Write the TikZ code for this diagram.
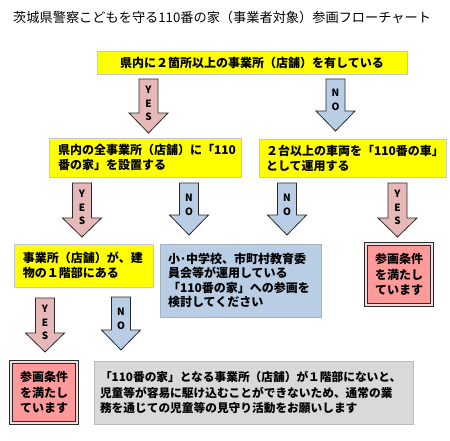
\documentclass[tikz,border=0pt]{standalone}
\usepackage{fontspec}
\setmainfont{Noto Sans CJK JP}
\definecolor{ybox}{HTML}{FFFF00}
\definecolor{yborder}{HTML}{C4C4D4}
\definecolor{bluefill}{HTML}{B9CDE5}
\definecolor{blueborder}{HTML}{A8B0BC}
\definecolor{greyfill}{HTML}{D9D9D9}
\definecolor{greyborder}{HTML}{BCBCBC}
\definecolor{pinkfill}{HTML}{FF9A9A}
\definecolor{pinkgap}{HTML}{F2DCDB}
\definecolor{yesfill}{HTML}{E6B9B8}
\definecolor{nofill}{HTML}{B9CDE5}
\definecolor{arrowline}{HTML}{2A2A2A}
\tikzset{
  boxtext/.style={font={\fontsize{12}{15}\selectfont\bfseries}, inner ysep=0pt},
  yellowbox/.style={boxtext, draw=yborder, fill=ybox, line width=0.8pt},
  bluebox/.style={boxtext, draw=blueborder, fill=bluefill, line width=0.8pt},
  greybox/.style={boxtext, draw=greyborder, fill=greyfill, line width=0.8pt},
  resultbox/.style={boxtext, font={\fontsize{12}{15.5}\selectfont\bfseries}, draw=arrowline, double=pinkgap, double distance=2.2pt, line width=0.9pt, fill=pinkfill, align=center, inner sep=0pt},
  yesarrow/.style={draw=arrowline, fill=yesfill, line width=0.8pt, line join=miter},
  noarrow/.style={draw=arrowline, fill=nofill, line width=0.8pt, line join=miter},
  arrowletter/.style={font={\fontsize{10}{11}\selectfont\bfseries}, text=black, inner sep=0pt}
}
% #1 name, #2 style, #3 cx, #4 top, #5 head start, #6 tip, #7 first letter y, #8 letters
\newcommand\flowarrow[8]{%
  \draw[#2] ({#3-9.5},#4) -- ({#3+9.5},#4) -- ({#3+9.5},#5) -- ({#3+19.5},#5)
    -- (#3,#6) -- ({#3-19.5},#5) -- ({#3-9.5},#5) -- cycle;
  \foreach \l [count=\i from 0] in {#8}
    \node[arrowletter] (#1-\i) at (#3,{#7+\i*13.5}) {\l};
}
\begin{document}
\begin{tikzpicture}[x=1pt,y=-1pt]
\useasboundingbox[fill=white] (0,0) rectangle (450,440);

\node[anchor=west, inner sep=0pt, font={\fontsize{13.2}{15}\selectfont}] (title) at (13,17)
  {茨城県警察こどもを守る110番の家（事業者対象）参画フローチャート};

% row 1
\node[yellowbox, minimum width=310pt, minimum height=23pt, align=center] (q1) at (252,62.5)
  {県内に２箇所以上の事業所（店舗）を有している};

\flowarrow{a1}{yesarrow}{148.5}{79}{113}{133}{90}{Y,E,S}
\flowarrow{a2}{noarrow}{335.5}{79}{111}{131}{93}{N,O}

% row 2
\node[yellowbox, minimum width=192pt, minimum height=39pt, text width=174pt, inner xsep=9pt, align=left] (q2) at (145,157.5)
  {県内の全事業所（店舗）に「110\\番の家」を設置する};
\node[yellowbox, minimum width=187pt, minimum height=38pt, text width=173pt, inner xsep=7pt, align=left] (q3) at (352.5,158)
  {２台以上の車両を「110番の車」\\として運用する};

\flowarrow{a3}{yesarrow}{82}{183}{218}{237}{194}{Y,E,S}
\flowarrow{a4}{noarrow}{189}{183}{215}{235}{198}{N,O}
\flowarrow{a5}{noarrow}{287}{183}{215}{235}{198}{N,O}
\flowarrow{a6}{yesarrow}{397.5}{183}{218}{237}{194}{Y,E,S}

% row 3
\node[yellowbox, minimum width=139pt, minimum height=43pt, text width=121pt, inner xsep=9pt, align=left] (q4) at (83.5,265.5)
  {事業所（店舗）が、建\\物の１階部にある};
\node[bluebox, font={\fontsize{12}{14.3}\selectfont\bfseries}, minimum width=161pt, minimum height=73pt, text width=145pt, inner xsep=8pt, align=left] (r1) at (240.5,280.5)
  {小･中学校、市町村教育委\\員会等が運用している\\「110番の家」への参画を\\検討してください};
\node[resultbox, minimum width=66pt, minimum height=61pt] (ok1) at (399,274.5)
  {参画条件\\を満たし\\ています};

\flowarrow{a7}{yesarrow}{45}{298}{333}{352}{309}{Y,E,S}
\flowarrow{a8}{noarrow}{121}{297}{330}{350}{312}{N,O}

% row 4
\node[resultbox, minimum width=66pt, minimum height=61pt] (ok2) at (44,392.5)
  {参画条件\\を満たし\\ています};
\node[greybox, font={\fontsize{11.7}{15.5}\selectfont\bfseries}, minimum width=319pt, minimum height=63pt, text width=307pt, inner xsep=6pt, align=left] (r2) at (253.5,392.5)
  {「110番の家」となる事業所（店舗）が１階部にないと、\\児童等が容易に駆け込むことができないため、通常の業\\務を通じての児童等の見守り活動をお願いします};
\end{tikzpicture}
\end{document}
